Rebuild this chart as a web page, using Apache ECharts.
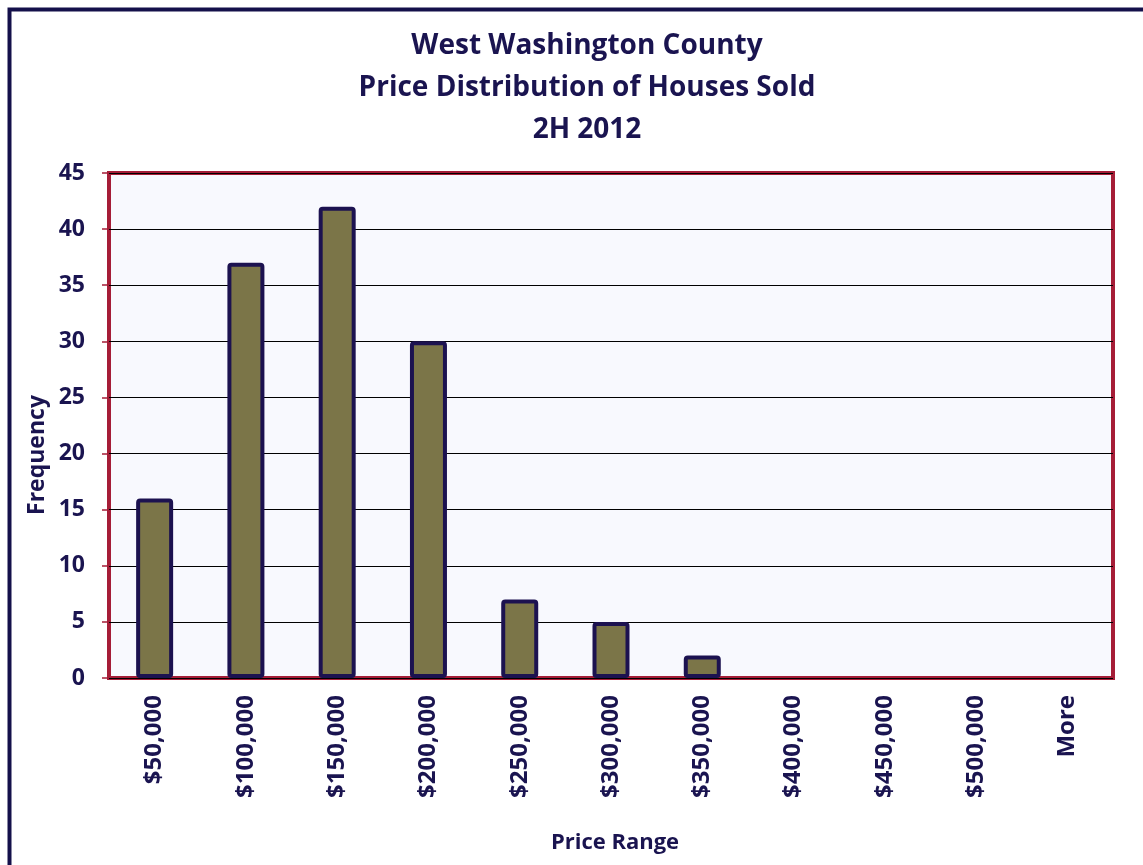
<!DOCTYPE html>
<html>
<head>
<meta charset="utf-8">
<script src="https://cdn.jsdelivr.net/npm/echarts@6/dist/echarts.min.js"></script>
<style>
html,body{margin:0;padding:0;background:#fff;}
#chart{width:1143px;height:865px;}
</style>
</head>
<body>
<div id="chart"></div>
<script>
var categories = ['$50,000','$100,000','$150,000','$200,000','$250,000','$300,000','$350,000','$400,000','$450,000','$500,000','More'];
var frequency = [16, 37, 42, 30, 7, 5, 2, 0, 0, 0, 0];
var titleLines = ['West Washington County', 'Price Distribution of Houses Sold', '2H 2012'];
var yTicks = {min: 0, max: 45, interval: 5};

var navy = '#1a1450';
var font = 'Open Sans';
var chart = echarts.init(document.getElementById('chart'));
chart.setOption({
  backgroundColor: '#ffffff',
  animation: false,
  title: {
    text: titleLines.join('\n'),
    left: 582,
    top: 20,
    textAlign: 'center',
    textStyle: {fontFamily: font, fontSize: 28, fontWeight: 'bold', color: navy, lineHeight: 42}
  },
  graphic: [
    {type: 'rect', shape: {x: 9.5, y: 9.5, width: 1300, height: 1000}, style: {fill: 'none', stroke: '#14104a', lineWidth: 4}, z: 100},
    {type: 'text', x: 37, y: 455, rotation: Math.PI / 2,
      style: {text: 'Frequency', fontFamily: font, fontSize: 23, fontWeight: 'bold', fill: navy, align: 'center', verticalAlign: 'middle'}},
    {type: 'text', x: 615, y: 843,
      style: {text: 'Price Range', fontFamily: font, fontSize: 22, fontWeight: 'bold', fill: navy, align: 'center', verticalAlign: 'middle'}}
  ],
  grid: {
    left: 109, top: 173, right: 30, bottom: 187,
    show: true, backgroundColor: '#f8f9fe', borderColor: '#a51d37', borderWidth: 4,
    containLabel: false
  },
  xAxis: {
    type: 'category',
    data: categories,
    axisLine: {show: false},
    axisTick: {show: false},
    axisLabel: {rotate: 90, margin: 17, fontFamily: font, fontSize: 24, fontWeight: 'bold', color: navy, interval: 0}
  },
  yAxis: {
    type: 'value',
    min: yTicks.min, max: yTicks.max, interval: yTicks.interval,
    axisLine: {show: false},
    axisTick: {show: true, length: 7, lineStyle: {color: '#a51d37', width: 1.5}},
    axisLabel: {margin: 24, fontFamily: font, fontSize: 23, fontWeight: 'bold', color: navy},
    splitLine: {show: true, lineStyle: {color: '#000000', width: 1}}
  },
  series: [{
    type: 'bar',
    data: frequency.map(function (v) {
      return v === 0 ? {value: v, itemStyle: {borderWidth: 0}} : v;
    }),
    barWidth: 37,
    itemStyle: {color: '#7b7548', borderColor: '#1c1250', borderWidth: 4, borderRadius: 2}
  }]
});
</script>
</body>
</html>
